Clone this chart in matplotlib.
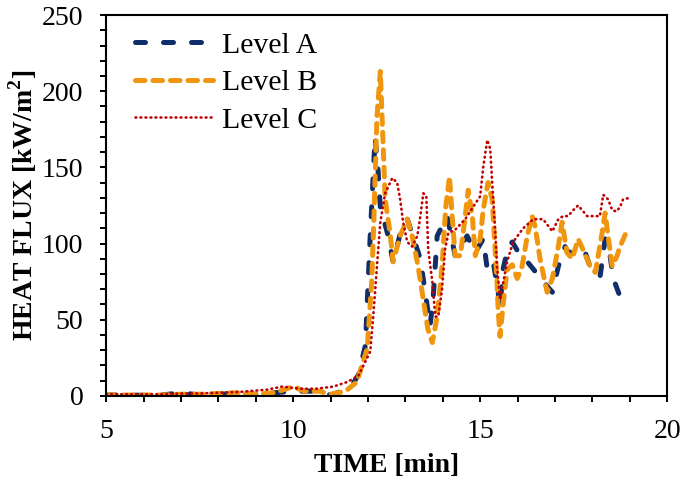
import numpy as np
import matplotlib.pyplot as plt
from matplotlib.ticker import MultipleLocator

plt.rcParams['font.family'] = ['Liberation Serif', 'DejaVu Serif']
plt.rcParams['mathtext.fontset'] = 'custom'
plt.rcParams['mathtext.rm'] = 'Liberation Serif'
plt.rcParams['mathtext.bf'] = 'Liberation Serif:bold'

# Level A (navy dashed)
t_a = [5.0, 5.5, 6.0, 6.5, 7.0, 7.5, 8.0, 8.5, 9.0, 9.5, 10.0, 10.5, 11.0, 11.3, 11.6,
       11.75, 11.93, 12.05, 12.19, 12.27, 12.33, 12.54, 12.67, 12.91, 13.05, 13.4, 13.66,
       13.74, 13.85, 14.12, 14.33, 14.65, 14.87, 15.08, 15.19, 15.35, 15.48, 15.53, 15.61,
       15.75, 15.86, 16.12, 16.26, 16.79, 16.93, 17.09, 17.27, 17.35, 17.67, 17.81, 17.99,
       18.21, 18.34, 18.42, 18.56, 18.74, 18.82]
q_a = [0.5, 0.5, 0.3, 0.5, 2.0, 0.5, 1.0, 1.5, 1.0, 2.0, 3.0, 3.0, 0.5, 3.0, 8.0,
       14.0, 33.0, 100.0, 170.0, 148.0, 124.0, 105.0, 88.0, 111.0, 116.0, 90.0, 46.0,
       63.0, 105.0, 118.0, 92.0, 105.0, 94.0, 103.0, 83.0, 88.0, 68.0, 57.0, 83.0,
       98.0, 101.0, 90.0, 88.0, 72.0, 68.0, 85.0, 98.0, 94.0, 96.0, 94.0, 81.0,
       79.0, 103.0, 101.0, 77.0, 65.0, 57.0]

# Level B (orange dashed)
t_b = [5.0, 5.5, 6.0, 6.5, 7.0, 7.5, 8.0, 8.5, 9.0, 9.5, 10.0, 10.3, 10.7, 11.0, 11.4,
       11.7, 11.98, 12.1, 12.16, 12.24, 12.33, 12.41, 12.46, 12.6, 12.67, 12.86, 13.05,
       13.18, 13.34, 13.48, 13.6, 13.72, 13.85, 13.98, 14.08, 14.18, 14.25, 14.33, 14.47,
       14.6, 14.68, 14.79, 14.87, 15.0, 15.08, 15.21, 15.32, 15.4, 15.45, 15.48, 15.53,
       15.61, 15.72, 15.86, 15.99, 16.12, 16.26, 16.39, 16.47, 16.6, 16.79, 16.93, 17.09,
       17.19, 17.32, 17.46, 17.62, 17.75, 17.94, 18.08, 18.26, 18.34, 18.42, 18.53, 18.66,
       18.74, 18.88, 19.0]
q_b = [0.5, 0.5, 0.5, 0.5, 1.0, 1.0, 1.5, 2.0, 1.0, 2.0, 6.0, 3.0, 3.0, 1.0, 3.0,
       9.0, 31.0, 75.0, 118.0, 183.0, 213.0, 162.0, 129.0, 105.0, 88.0, 105.0, 116.0,
       105.0, 85.0, 63.0, 44.0, 35.0, 52.0, 85.0, 124.0, 144.0, 118.0, 92.0, 92.0,
       118.0, 135.0, 118.0, 92.0, 103.0, 122.0, 140.0, 129.0, 96.0, 75.0, 57.0, 39.0,
       59.0, 83.0, 86.0, 77.0, 85.0, 105.0, 118.0, 111.0, 90.0, 68.0, 77.0, 98.0,
       114.0, 94.0, 90.0, 103.0, 96.0, 85.0, 81.0, 107.0, 120.0, 105.0, 85.0, 92.0,
       98.0, 106.0, 104.0]

# Level C (red dotted)
t_c = [5.0, 5.5, 6.0, 6.5, 7.0, 7.5, 8.0, 8.6, 9.3, 9.7, 10.2, 10.6, 11.07, 11.44, 11.74,
       12.06, 12.14, 12.24, 12.33, 12.46, 12.65, 12.78, 12.86, 12.94, 13.05, 13.18, 13.32,
       13.4, 13.48, 13.56, 13.61, 13.72, 13.8, 13.88, 13.98, 14.06, 14.15, 14.33, 14.6,
       14.81, 15.0, 15.08, 15.19, 15.27, 15.32, 15.4, 15.45, 15.53, 15.62, 15.72, 15.88,
       16.15, 16.42, 16.68, 16.93, 17.09, 17.22, 17.35, 17.49, 17.62, 17.86, 18.07, 18.2,
       18.29, 18.42, 18.53, 18.64, 18.74, 18.82, 19.0]
q_c = [1.0, 1.0, 1.0, 1.0, 1.5, 1.5, 2.0, 2.6, 4.0, 6.0, 4.6, 4.6, 6.0, 9.0, 13.0,
       29.0, 52.0, 85.0, 114.0, 133.0, 143.0, 140.0, 129.0, 114.0, 101.0, 98.0, 105.0,
       118.0, 133.0, 131.0, 96.0, 75.0, 52.0, 52.0, 70.0, 96.0, 107.0, 109.0, 116.0,
       124.0, 131.0, 150.0, 168.0, 162.0, 140.0, 109.0, 85.0, 63.0, 75.0, 88.0, 101.0,
       110.0, 116.0, 116.0, 108.0, 116.0, 118.0, 118.0, 122.0, 125.0, 118.0, 118.0, 118.0,
       132.0, 129.0, 122.0, 121.0, 124.0, 129.0, 130.0]

fig = plt.figure(figsize=(6.85, 4.88), dpi=100)
ax = fig.add_axes([0.155, 0.189, 0.819, 0.780])

ax.plot(t_a, q_a, color='#102F6A', lw=3.6, dashes=(2.0, 3.6), dash_capstyle='round',
        label='Level A')
ax.plot(t_b, q_b, color='#F0960E', lw=3.6, dashes=(1.9, 1.6), dash_capstyle='round',
        label='Level B')
ax.plot(t_c, q_c, color='#C00000', lw=1.9, dashes=(0.3, 1.6), dash_capstyle='round',
        label='Level C')

ax.set_xlim(5, 20)
ax.set_ylim(0, 250)
ax.xaxis.set_major_locator(MultipleLocator(5))
ax.xaxis.set_minor_locator(MultipleLocator(1))
ax.yaxis.set_major_locator(MultipleLocator(50))
ax.yaxis.set_minor_locator(MultipleLocator(10))
ax.tick_params(which='both', direction='out', width=1.4, length=4.5, labelsize=20,
               color='black', pad=12)
for s in ax.spines.values():
    s.set_linewidth(1.5)

ax.set_xlabel('TIME [min]', fontsize=20, fontweight='bold', labelpad=7)
ax.set_ylabel(r'HEAT FLUX [kW/m$^\mathbf{2}$]', fontsize=20, fontweight='bold', labelpad=2)

ax.legend(loc='upper left', bbox_to_anchor=(0.036, 0.98), frameon=False, fontsize=21.5,
          handlelength=2.6, handletextpad=0.3, labelspacing=0.36, borderaxespad=0,
          borderpad=0.3)

fig.savefig('out.png', dpi=100)
